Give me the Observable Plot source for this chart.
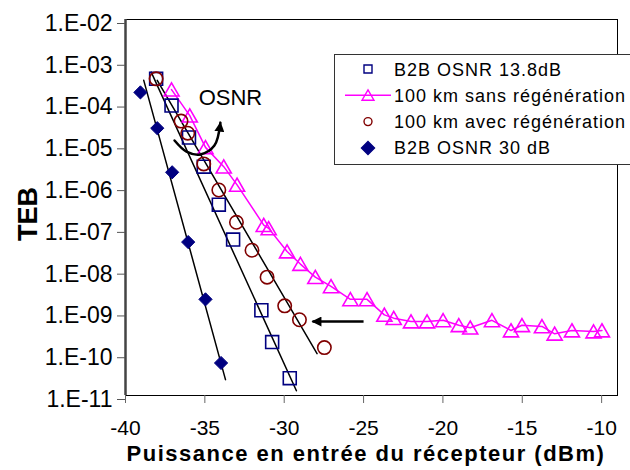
<!DOCTYPE html>
<html><head><meta charset="utf-8">
<script src="https://cdn.jsdelivr.net/npm/d3@7"></script>
<script src="https://cdn.jsdelivr.net/npm/@observablehq/plot@0.6"></script>
<style>
html,body{margin:0;padding:0;background:#fff;}
#chart svg{display:block;}
</style></head><body><div id="chart"></div>
<script>
// ---- tick values ----
const xTicks = [-40, -35, -30, -25, -20, -15, -10];
const yTicks = [1e-2, 1e-3, 1e-4, 1e-5, 1e-6, 1e-7, 1e-8, 1e-9, 1e-10, 1e-11];

// ---- series: B2B OSNR 13.8dB (squares) ----
const sqX   = [-38.07, -37.1, -36.0, -35.07, -34.12, -33.22, -31.44, -30.76, -29.65];
const sqTEB = [3.8e-4, 8.7e-5, 1.5e-5, 3.0e-6, 3.7e-7, 5.4e-8, 1.1e-9, 1.9e-10, 2.6e-11];

// ---- series: 100 km sans régénération (triangles, line) ----
const trX   = [-37.1, -35.95, -34.96, -33.81, -32.97, -31.29, -30.98, -29.82, -28.98, -28.04, -27.05, -25.83, -24.78,
               -23.69, -23.1, -22.01, -21.0, -19.99, -19.0, -18.28, -16.91, -15.71, -15.02, -13.76, -12.96, -11.87, -10.51, -9.98];
const trTEB = [2.1e-4, 5.0e-5, 8.7e-6, 3.0e-6, 1.1e-6, 1.2e-7, 1.0e-7, 2.8e-8, 1.4e-8, 6.8e-9, 4.1e-9, 2.0e-9, 2.0e-9,
               8.5e-10, 7.1e-10, 5.9e-10, 5.9e-10, 6.3e-10, 4.8e-10, 4.2e-10, 6.3e-10, 3.6e-10, 4.8e-10, 4.5e-10, 3.0e-10, 3.6e-10, 3.4e-10, 3.6e-10];

// ---- series: 100 km avec régénération (circles) ----
const ciX   = [-38.07, -36.5, -36.08, -35.07, -34.12, -33.01, -32.03, -31.08, -29.97, -29.04, -27.47];
const ciTEB = [3.8e-4, 3.7e-5, 1.9e-5, 3.5e-6, 8.3e-7, 1.4e-7, 3.0e-8, 6.8e-9, 1.4e-9, 6.5e-10, 1.4e-10];

// ---- series: B2B OSNR 30 dB (diamonds) ----
const diX   = [-39.06, -38.0, -37.06, -36.05, -34.96, -33.98];
const diTEB = [1.8e-4, 2.5e-5, 2.2e-6, 4.7e-8, 2.0e-9, 6.0e-11];

// ---- fitted trend lines (endpoints) ----
const fitSqX = [-38.38, -29.23], fitSqTEB = [5.5e-4, 1.3e-11];
const fitCiX = [-38.0, -27.93],  fitCiTEB = [3.5e-4, 1.0e-10];
const fitDiX = [-38.85, -33.7],  fitDiTEB = [3.5e-4, 2.4e-11];

// ---- annotations ----
const osnrLabel = "OSNR", osnrX = [-33.39], osnrTEB = [1.36e-4];
const arcX   = [-36.91, -36.16, -35.28, -34.40, -34.02];
const arcTEB = [1.27e-5, 6.9e-6, 5.9e-6, 9.6e-6, 3.4e-5];
const arrowX = [-25.0, -28.22], arrowTEB = [5.9e-10, 5.9e-10];

// ---- texts ----
const legendNames = ["B2B OSNR 13.8dB", "100 km sans régénération", "100 km avec régénération", "B2B OSNR 30 dB"];
const xTitle = "Puissance en entrée du récepteur (dBm)";
const yTitle = "TEB";

const pts = (xs, ys) => xs.map((x, i) => ({x, y: ys[i]}));
const fmtY = d => { const e = Math.round(Math.log10(d)); return "1.E" + (e < 0 ? "-" : "+") + String(Math.abs(e)).padStart(2, "0"); };

const NAVY = "#000080", MAG = "#FF00FF", BROWN = "#800000";

const plot = Plot.plot({
  width: 630, height: 470,
  marginLeft: 125, marginRight: 13, marginTop: 19, marginBottom: 75,
  style: {fontFamily: "'Liberation Sans', Arial, sans-serif", background: "white", color: "black"},
  x: {domain: [-40, -9]},
  y: {type: "log", domain: [1e-11, 1e-2]},
  marks: [
    Plot.frame({stroke: "black", strokeWidth: 1}),
    Plot.ruleX([-40], {stroke: "#444", strokeWidth: 2.5}),
    Plot.axisX({ticks: xTicks, tickFormat: d => String(d), tickSize: 8, tickPadding: 17, fontSize: 21, stroke: "#666", fill: "black", label: null}),
    Plot.axisY({ticks: yTicks, tickFormat: fmtY, tickSize: 8, tickPadding: 5, fontSize: 23, dy: 4, stroke: "#555", fill: "black", label: null}),
    Plot.line(pts(fitSqX, fitSqTEB), {x: "x", y: "y", stroke: "black", strokeWidth: 1.5}),
    Plot.line(pts(fitCiX, fitCiTEB), {x: "x", y: "y", stroke: "black", strokeWidth: 1.5}),
    Plot.line(pts(fitDiX, fitDiTEB), {x: "x", y: "y", stroke: "black", strokeWidth: 1.5}),
    Plot.line(pts(trX, trTEB), {x: "x", y: "y", stroke: MAG, strokeWidth: 1.5}),
    Plot.dot(pts(sqX, sqTEB), {x: "x", y: "y", symbol: "square", r: 7.3, stroke: NAVY, strokeWidth: 1.6, fill: "none"}),
    Plot.dot(pts(trX, trTEB), {x: "x", y: "y", symbol: "triangle", r: 5.6, dy: 2, stroke: MAG, strokeWidth: 1.6, fill: "none"}),
    Plot.dot(pts(ciX, ciTEB), {x: "x", y: "y", symbol: "circle", r: 6.7, stroke: BROWN, strokeWidth: 1.6, fill: "none"}),
    Plot.dot(pts(diX, diTEB), {x: "x", y: "y", symbol: "diamond2", r: 5.95, fill: NAVY, stroke: NAVY, strokeWidth: 1}),
    Plot.text(pts(osnrX, osnrTEB), {x: "x", y: "y", text: () => osnrLabel, fontSize: 22, fill: "black", textAnchor: "middle"}),
    Plot.line(pts(arcX, arcTEB), {x: "x", y: "y", curve: "catmull-rom", stroke: "black", strokeWidth: 2.5, className: "osnr-arc"}),
    Plot.link([0], {x1: () => arrowX[0], x2: () => arrowX[1], y1: () => arrowTEB[0], y2: () => arrowTEB[1], stroke: "black", strokeWidth: 2.5, className: "arrow-straight"})
  ]
});

const svg = d3.select(plot);
const defs = svg.append("defs");
defs.append("marker").attr("id", "ahead").attr("viewBox", "0 0 10 10").attr("refX", 9).attr("refY", 5)
  .attr("markerWidth", 12).attr("markerHeight", 10).attr("markerUnits", "userSpaceOnUse").attr("orient", "auto")
  .append("path").attr("d", "M0,0L10,5L0,10Z").attr("fill", "black");
defs.append("marker").attr("id", "ahead2").attr("viewBox", "0 0 10 10").attr("refX", 9).attr("refY", 5)
  .attr("markerWidth", 10).attr("markerHeight", 10).attr("markerUnits", "userSpaceOnUse").attr("orient", "auto")
  .append("path").attr("d", "M0,0L10,5L0,10Z").attr("fill", "black");
svg.selectAll("g.arrow-straight path, g.arrow-straight line").attr("marker-end", "url(#ahead)");
svg.selectAll("g.osnr-arc path").attr("marker-end", "url(#ahead2)");

// axis titles
svg.append("text").attr("x", 366).attr("y", 461).attr("text-anchor", "middle")
  .style("font", "bold 22px 'Liberation Sans', Arial, sans-serif").style("letter-spacing", "1.5px").attr("fill", "black").text(xTitle);
svg.append("text").attr("transform", "translate(37,214) rotate(-90)").attr("text-anchor", "middle")
  .style("font", "bold 27px 'Liberation Sans', Arial, sans-serif").attr("fill", "black").text(yTitle);

// legend
const lg = svg.append("g");
lg.append("rect").attr("x", 334.5).attr("y", 54.5).attr("width", 310).attr("height", 110).attr("fill", "white").attr("stroke", "#333").attr("stroke-width", 1);
const legSym = [
  {type: d3.symbolSquare, size: 64, stroke: NAVY, fill: "none"},
  {type: d3.symbolTriangle, size: 62, stroke: MAG, fill: "none", line: true, dy: 1.5},
  {type: d3.symbolCircle, size: 50, stroke: BROWN, fill: "none"},
  {type: d3.symbolDiamond2, size: 108, stroke: NAVY, fill: NAVY}
];
legendNames.forEach((name, i) => {
  const cy = 69 + i * 26.3;
  const s = legSym[i];
  if (s.line) lg.append("line").attr("x1", 345).attr("x2", 391).attr("y1", cy).attr("y2", cy).attr("stroke", MAG).attr("stroke-width", 1.5);
  lg.append("path").attr("d", d3.symbol(s.type, s.size)()).attr("transform", `translate(368,${cy + (s.dy || 0)})`)
    .attr("stroke", s.stroke).attr("fill", s.fill).attr("stroke-width", 1.4);
  lg.append("text").attr("x", 394).attr("y", cy + 6.5).attr("text-anchor", "start")
    .style("font", "18px 'Liberation Sans', Arial, sans-serif").style("letter-spacing", "1px").attr("fill", "black").text(name);
});

document.getElementById("chart").appendChild(plot);
</script>
</body></html>
